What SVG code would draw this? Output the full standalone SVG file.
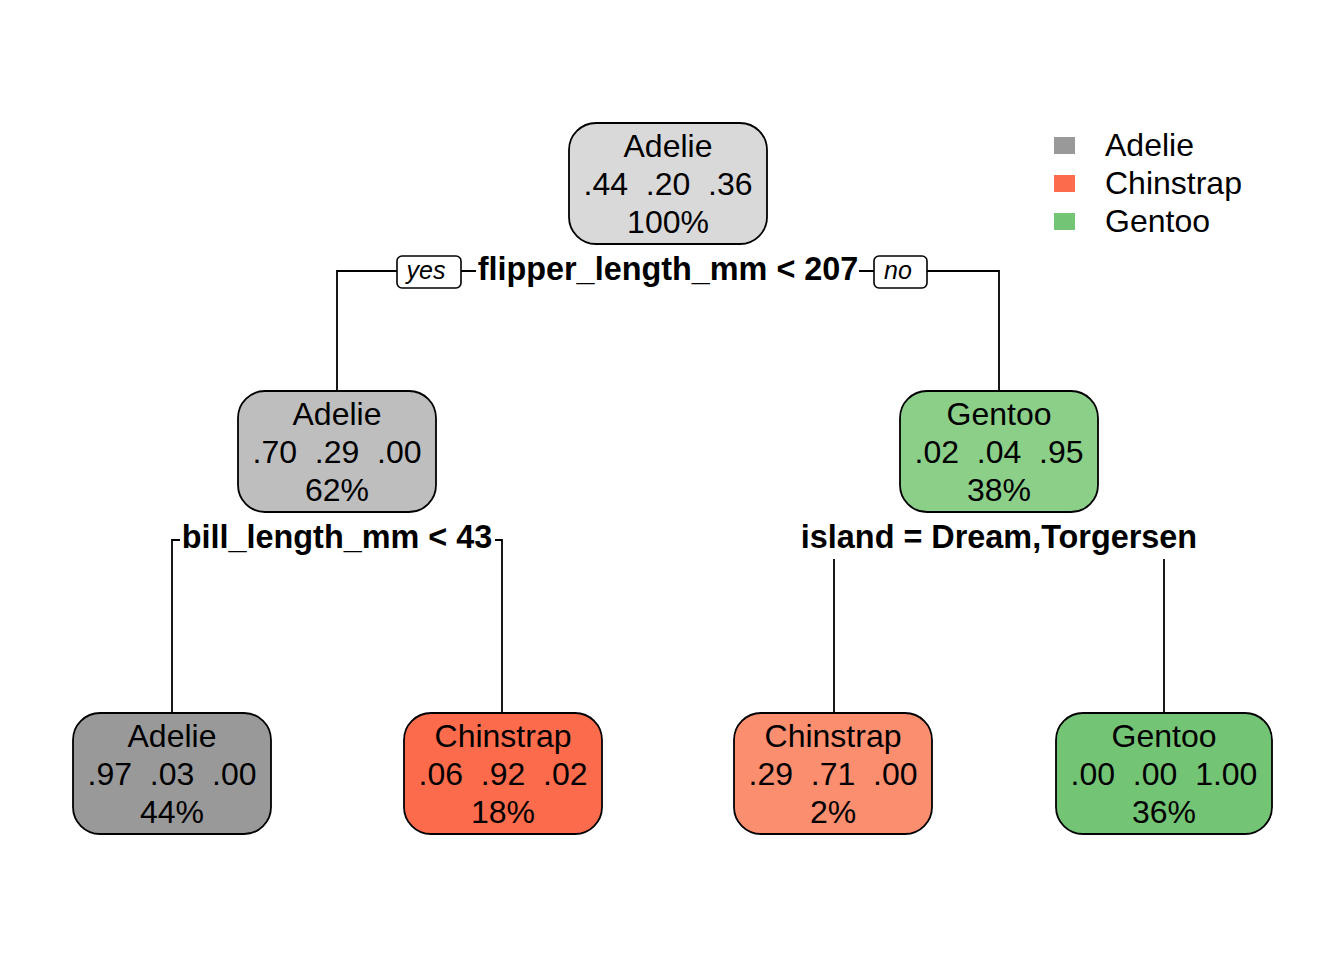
<svg xmlns="http://www.w3.org/2000/svg" width="1344" height="960" viewBox="0 0 1344 960">
<style>
.box{stroke:#000;stroke-width:1.8}
.t{font-family:"Liberation Sans",Arial,sans-serif;font-size:32px;text-anchor:middle;fill:#000;white-space:pre}
.lg{font-family:"Liberation Sans",Arial,sans-serif;font-size:32px;fill:#000}
.sp{font-family:"Liberation Sans",Arial,sans-serif;font-size:32.4px;font-weight:bold;text-anchor:middle;fill:#000}
.yn{font-family:"Liberation Sans",Arial,sans-serif;font-size:25px;font-style:italic;text-anchor:middle;fill:#000}
.ln{stroke:#000;stroke-width:1.8;fill:none}
.ynb{fill:#fff;stroke:#000;stroke-width:1.6}
</style>
<rect width="1344" height="960" fill="#fff"/>
<g id="connectors">
<path class="ln" d="M337 391 V271 H999 V391"/>
<path class="ln" d="M172 713 V540 H502 V713"/>
<path class="ln" d="M834 713 V540 M1164 713 V540"/>
<rect x="476" y="252" width="383" height="38" fill="#fff"/>
<text class="sp" x="668" y="280">flipper_length_mm &lt; 207</text>
<rect x="397" y="256" width="64" height="32" rx="5" class="ynb"/>
<text class="yn" x="426" y="279">yes</text>
<rect x="874" y="256" width="53" height="32" rx="5" class="ynb"/>
<text class="yn" x="898" y="279">no</text>
<rect x="180" y="520" width="315" height="38" fill="#fff"/>
<text class="sp" x="337" y="548">bill_length_mm &lt; 43</text>
<rect x="799" y="520" width="401" height="39" fill="#fff"/>
<text class="sp" x="999" y="548">island = Dream,Torgersen</text>
</g>
<g id="node1">
<rect class="box" x="569" y="123" width="198" height="121" rx="27" fill="#D9D9D9"/>
<text class="t" x="668" y="157">Adelie</text>
<text class="t" x="668" y="195">.44  .20  .36</text>
<text class="t" x="668" y="233">100%</text>
</g>
<g id="node2">
<rect class="box" x="238" y="391" width="198" height="121" rx="27" fill="#BEBEBE"/>
<text class="t" x="337" y="425">Adelie</text>
<text class="t" x="337" y="463">.70  .29  .00</text>
<text class="t" x="337" y="501">62%</text>
</g>
<g id="node3">
<rect class="box" x="900" y="391" width="198" height="121" rx="27" fill="#8BCF89"/>
<text class="t" x="999" y="425">Gentoo</text>
<text class="t" x="999" y="463">.02  .04  .95</text>
<text class="t" x="999" y="501">38%</text>
</g>
<g id="node4">
<rect class="box" x="73" y="713" width="198" height="121" rx="27" fill="#999999"/>
<text class="t" x="172" y="747">Adelie</text>
<text class="t" x="172" y="785">.97  .03  .00</text>
<text class="t" x="172" y="823">44%</text>
</g>
<g id="node5">
<rect class="box" x="404" y="713" width="198" height="121" rx="27" fill="#FC6C4C"/>
<text class="t" x="503" y="747">Chinstrap</text>
<text class="t" x="503" y="785">.06  .92  .02</text>
<text class="t" x="503" y="823">18%</text>
</g>
<g id="node6">
<rect class="box" x="734" y="713" width="198" height="121" rx="27" fill="#FC8E70"/>
<text class="t" x="833" y="747">Chinstrap</text>
<text class="t" x="833" y="785">.29  .71  .00</text>
<text class="t" x="833" y="823">2%</text>
</g>
<g id="node7">
<rect class="box" x="1056" y="713" width="216" height="121" rx="27" fill="#74C476"/>
<text class="t" x="1164" y="747">Gentoo</text>
<text class="t" x="1164" y="785">.00  .00  1.00</text>
<text class="t" x="1164" y="823">36%</text>
</g>
<g id="legend">
<rect x="1054" y="137" width="21" height="17" fill="#999999"/>
<rect x="1054" y="175" width="21" height="17" fill="#FC6C4C"/>
<rect x="1054" y="213" width="21" height="17" fill="#74C476"/>
<text class="lg" x="1105" y="156">Adelie</text>
<text class="lg" x="1105" y="194">Chinstrap</text>
<text class="lg" x="1105" y="232">Gentoo</text>
</g>
</svg>
